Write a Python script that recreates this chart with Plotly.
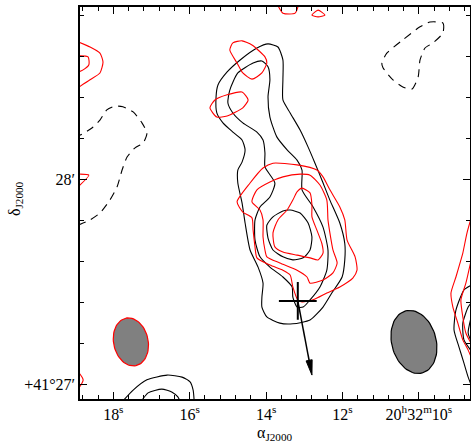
import math
import plotly.graph_objects as go

# Coordinates: RA in seconds of time after 20h32m, Dec in arcsec above +41°27'00"
ra_ticks = [18, 16, 14, 12, 10]
ra_ticktext = ["18<sup>s</sup>", "16<sup>s</sup>", "14<sup>s</sup>", "12<sup>s</sup>",
               "20<sup>h</sup>32<sup>m</sup>10<sup>s</sup>"]
dec_ticks = [0, 60]
dec_ticktext = ["+41°27′", "28′"]

# black solid contours (closed)
blk_outer = [(13.95,99.6),(13.69,98.7),(13.56,94.9),(13.56,89.1),(13.56,83.2),(13.37,79.4),(13.11,74.4),
             (12.90,69.4),(12.72,64.7),(12.54,59.8),(12.33,53.9),(12.07,47.2),(11.94,41.2),(11.94,36.4),
             (12.01,31.4),(12.28,26.7),(12.51,22.6),(12.85,18.8),(13.30,17.7),(13.64,17.9),(13.98,19.7),
             (14.11,22.6),(14.11,25.5),(14.08,29.6),(14.21,34.3),(14.42,39.3),(14.55,47.2),(14.63,53.1),
             (14.74,58.9),(14.74,62.7),(14.63,65.0),(14.55,68.6),(14.63,71.5),(14.87,73.8),(15.13,76.5),
             (15.29,79.4),(15.31,84.1),(15.26,87.6),(15.02,91.4),(14.68,94.9),(14.24,98.4)]
blk_mid = [(14.11,94.6),(13.95,92.9),(13.90,89.1),(13.95,84.1),(13.90,78.2),(13.72,72.4),(13.45,68.6),
           (13.19,65.6),(13.06,62.7),(13.06,56.9),(12.77,51.9),(12.51,46.0),(12.38,39.3),(12.41,33.4),
           (12.59,28.5),(12.85,24.7),(13.03,22.6),(13.19,22.6),(13.30,25.5),(13.32,28.5),(13.56,31.4),
           (13.90,34.3),(14.16,37.3),(14.29,42.2),(14.29,48.1),(14.16,51.9),(13.90,54.8),(13.77,58.9),
           (14.03,63.6),(14.03,67.7),(14.08,71.5),(14.24,73.8),(14.61,76.5),(14.87,79.4),(15.00,82.3),
           (14.95,86.1),(14.74,91.1),(14.34,94.0)]
blk_inner = [(13.37,51.0),(13.11,50.1),(12.90,47.2),(12.80,43.1),(12.85,39.3),(13.03,37.0),(13.30,36.4),
             (13.56,37.3),(13.82,39.3),(13.95,42.8),(13.98,46.6),(13.82,49.0),(13.56,50.7)]
blk_dash_ne = [(9.71,106.0),(9.37,105.7),(9.37,102.8),(9.63,99.9),(9.84,98.4),(9.97,94.9),(10.02,89.9),
               (10.18,86.4),(10.42,87.0),(10.68,89.1),(10.94,92.6),(10.97,94.0),(10.84,96.9),(10.42,100.8),
               (9.97,104.6)]
# black open contours (cut by the frame)
blk_dash_w = [(18.92,46.6),(18.61,48.1),(18.35,50.1),(18.09,53.9),(17.90,57.8),(17.77,62.7),(17.64,66.5),
              (17.43,69.2),(17.22,70.6),(17.12,73.5),(17.25,76.5),(17.48,79.7),(17.75,81.2),(17.96,81.4),
              (18.17,80.3),(18.35,77.3),(18.56,75.0),(18.87,72.9)]
blk_sw_outer = [(17.80,-5.5),(17.48,-1.7),(17.12,1.3),(16.59,2.7),(16.20,2.1),(15.99,0.7),(15.91,-1.7),(15.88,-5.5)]
blk_sw_inner = [(17.30,-5.5),(17.09,-2.5),(16.73,-1.4),(16.46,-2.3),(16.31,-3.7),(16.23,-5.5)]
blk_e1 = [(8.61,29.1),(8.82,27.6),(9.03,21.7),(9.08,15.9),(8.95,10.9),(8.82,6.2),(8.71,2.1),(8.61,-0.8)]
blk_e2 = [(8.61,24.1),(8.71,22.6),(8.85,17.9),(8.82,13.0),(8.61,9.5)]
blk_e3 = [(8.61,20.6),(8.71,15.0),(8.61,12.1)]

# red contours (closed)
red_outer = [(14.76,53.4),(14.61,50.4),(14.37,48.7),(14.34,45.1),(14.29,40.2),(14.24,37.0),(13.90,34.9),
             (13.56,33.4),(13.37,32.0),(13.30,28.5),(13.17,24.7),(13.06,24.1),(12.77,24.7),(12.41,26.7),
             (12.07,28.5),(11.73,31.1),(11.62,33.4),(11.67,37.3),(11.88,42.2),(11.94,48.1),(12.07,51.9),
             (12.33,56.9),(12.51,60.7),(12.67,62.7),(13.19,64.2),(13.82,64.7),(14.08,63.3),(14.42,58.9)]
red_mid = [(14.37,53.4),(14.16,51.0),(14.08,48.1),(14.08,43.1),(14.03,39.3),(13.98,37.3),(13.64,35.5),
           (13.19,33.4),(12.93,31.4),(12.85,29.6),(12.51,30.5),(12.25,32.6),(12.14,35.5),(12.25,39.3),
           (12.33,44.3),(12.38,48.1),(12.41,53.9),(12.59,58.3),(12.85,61.2),(13.11,61.5),(13.56,60.7),
           (13.90,59.2),(14.24,56.9)]
red_inner = [(13.06,57.4),(12.85,56.0),(12.80,52.5),(12.80,49.0),(12.67,45.1),(12.54,41.2),(12.51,38.4),
             (12.64,36.4),(12.85,37.0),(13.19,37.8),(13.56,38.7),(13.77,40.2),(13.82,44.3),(13.69,48.1),
             (13.45,51.0),(13.30,53.9),(13.19,56.3)]
red_n1 = [(14.95,97.8),(14.87,99.9),(14.63,100.5),(14.37,99.3),(14.03,95.8),(13.98,94.0),(14.11,91.1),
          (14.37,89.3),(14.61,91.1),(14.76,94.0)]
red_n2 = [(15.47,80.9),(15.34,83.2),(15.02,84.7),(14.63,85.5),(14.47,83.2),(14.61,80.9),(15.02,78.5),(15.29,78.2)]
red_top2 = [(12.80,108.0),(12.64,109.5),(12.46,108.0),(12.64,107.5)]
# red open contours (cut by the frame)
red_top1 = [(13.72,111.5),(13.56,108.6),(13.24,108.6),(13.14,111.5)]
red_w1 = [(18.98,100.5),(18.61,98.7),(18.35,96.9),(18.27,94.3),(18.35,91.1),(18.61,89.1),(18.98,86.4)]
red_w2 = [(18.98,96.1),(18.66,95.8),(18.64,93.5),(18.79,92.0),(18.98,91.1)]
red_w3 = [(18.92,57.8),(18.64,61.2),(18.87,61.5)]
red_w4 = [(18.98,4.5),(18.79,1.3),(18.98,-2.3)]
red_e1 = [(8.61,49.5),(8.74,44.3),(8.85,38.4),(8.90,36.4),(9.03,31.4),(9.16,26.7),(9.11,22.6),(8.98,17.9),
          (8.85,13.0),(8.71,10.0),(8.58,6.5)]
red_e2 = [(8.61,37.5),(8.77,29.6),(8.90,24.7),(8.85,19.7),(8.77,15.0),(8.61,11.5)]

# source position and motion arrow tip
src_ra, src_dec = [13.17], [24.4]
arrow_tip_ra, arrow_tip_dec = 12.80, 2.7

# beams: centre RA (s), centre Dec ("), major ("), minor ("), PA (deg)
beam_red = (17.54, 12.4, 14.2, 10.1, 12)
beam_blk = (10.13, 12.4, 18.8, 13.0, 15)

ARCSEC_PER_S = 11.18

fig = go.Figure()

def add_line(pts, color, closed, dash="solid"):
    p = list(pts) + ([pts[0]] if closed else [])
    fig.add_trace(go.Scatter(x=[q[0] for q in p], y=[q[1] for q in p], mode="lines",
                             line=dict(color=color, width=1.1, dash=dash, shape="spline", smoothing=0.6),
                             hoverinfo="skip", showlegend=False))

for c in [blk_outer, blk_mid, blk_inner]:
    add_line(c, "black", True)
add_line(blk_dash_ne, "black", True, "8px,6px")
add_line(blk_dash_w, "black", False, "8px,6px")
for c in [blk_sw_outer, blk_sw_inner, blk_e1, blk_e2, blk_e3]:
    add_line(c, "black", False)
for c in [red_outer, red_mid, red_inner, red_n1, red_n2, red_top2]:
    add_line(c, "red", True)
for c in [red_top1, red_w1, red_w2, red_w3, red_w4, red_e1, red_e2]:
    add_line(c, "red", False)

def beam(b, edge):
    ra0, dec0, maj, mnr, pa = b
    th = math.radians(pa)
    xs, ys = [], []
    for i in range(73):
        t = 2 * math.pi * i / 72
        u = maj / 2 * math.cos(t)
        v = mnr / 2 * math.sin(t)
        east = u * math.sin(th) + v * math.cos(th)
        north = u * math.cos(th) - v * math.sin(th)
        xs.append(ra0 + east / ARCSEC_PER_S)
        ys.append(dec0 + north)
    fig.add_trace(go.Scatter(x=xs, y=ys, mode="lines", fill="toself", fillcolor="#808080",
                             line=dict(color=edge, width=1.2), hoverinfo="skip", showlegend=False))

beam(beam_red, "red")
beam(beam_blk, "black")

# source cross
fig.add_trace(go.Scatter(x=src_ra, y=src_dec, mode="markers",
                         marker=dict(symbol="cross-thin", size=27, line=dict(color="black", width=2)),
                         hoverinfo="skip", showlegend=False))

# proper-motion arrow: shaft + narrow filled head (head size given in arcsec)
HEAD_LEN, HEAD_HALF_W = 4.4, 0.9
dx = (arrow_tip_ra - src_ra[0]) * ARCSEC_PER_S   # east offset (arcsec)
dy = arrow_tip_dec - src_dec[0]
L = math.hypot(dx, dy)
ux, uy = dx / L, dy / L
bx, by = -HEAD_LEN * ux, -HEAD_LEN * uy
px_, py_ = -uy * HEAD_HALF_W, ux * HEAD_HALF_W
base_e = (arrow_tip_ra + (bx * 0.9) / ARCSEC_PER_S, arrow_tip_dec + by * 0.9)
fig.add_trace(go.Scatter(x=[src_ra[0], base_e[0]], y=[src_dec[0], base_e[1]], mode="lines",
                         line=dict(color="black", width=1.5), hoverinfo="skip", showlegend=False))
hx = [arrow_tip_ra,
      arrow_tip_ra + (bx + px_) / ARCSEC_PER_S,
      arrow_tip_ra + (bx - px_) / ARCSEC_PER_S,
      arrow_tip_ra]
hy = [arrow_tip_dec, arrow_tip_dec + by + py_, arrow_tip_dec + by - py_, arrow_tip_dec]
fig.add_trace(go.Scatter(x=hx, y=hy, mode="lines", fill="toself", fillcolor="black",
                         line=dict(color="black", width=1), hoverinfo="skip", showlegend=False))

font = dict(family="Liberation Serif, Times New Roman, serif", size=16, color="black")
fig.update_xaxes(range=[18.872, 8.662], tickvals=ra_ticks, ticktext=ra_ticktext, ticks="inside",
                 ticklen=7, tickwidth=1, tickcolor="black", showline=True, linewidth=1.5, linecolor="black",
                 mirror="allticks", showgrid=False, zeroline=False, tickfont=font, automargin=False,
                 minor=dict(dtick=0.4, tick0=10, ticks="inside", ticklen=4, tickcolor="black", showgrid=False))
fig.update_yaxes(range=[-4.3, 110.4], tickvals=dec_ticks, ticktext=dec_ticktext, ticks="inside",
                 ticklen=7, tickwidth=1, tickcolor="black", showline=True, linewidth=1.5, linecolor="black",
                 mirror="allticks", showgrid=False, zeroline=False, tickfont=font, automargin=False,
                 minor=dict(dtick=12, tick0=0, ticks="inside", ticklen=4, tickcolor="black", showgrid=False))

fig.add_annotation(text="α<sub>J2000</sub>", xref="paper", yref="paper", x=0.5, y=0, yshift=-34,
                   showarrow=False, font=dict(family=font["family"], size=16, color="black"),
                   xanchor="center", yanchor="middle")
fig.add_annotation(text="δ<sub>J2000</sub>", xref="paper", yref="paper", x=0, y=0.51, xshift=-65,
                   showarrow=False, textangle=-90, font=dict(family=font["family"], size=16, color="black"),
                   xanchor="center", yanchor="middle")

fig.update_layout(width=471, height=442, margin=dict(l=80, r=1, t=7, b=43, autoexpand=False),
                  plot_bgcolor="white", paper_bgcolor="white", showlegend=False)
fig.write_html("out.html", config={"displayModeBar": False},
               post_script="document.body.style.margin='0';document.body.style.padding='0';")
